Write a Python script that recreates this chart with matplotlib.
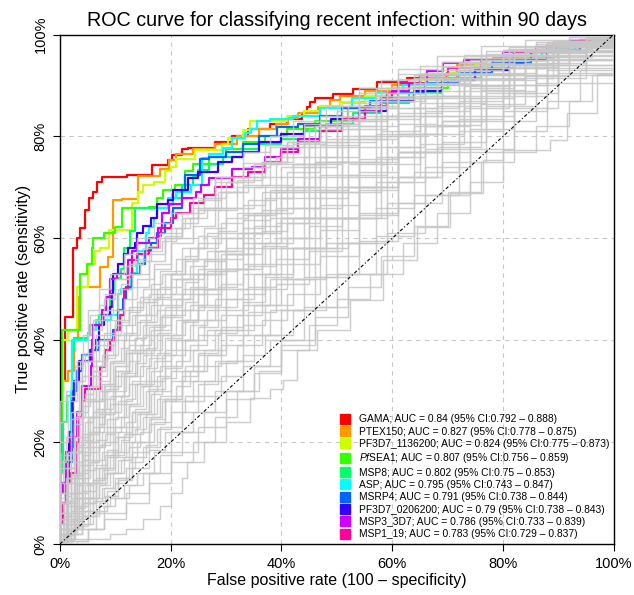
import matplotlib
matplotlib.use("Agg")
import matplotlib.pyplot as plt
from matplotlib.lines import Line2D

plt.rcParams['font.family'] = ['Liberation Sans', 'DejaVu Sans']
plt.rcParams['mathtext.fontset'] = 'custom'
plt.rcParams['mathtext.it'] = 'Liberation Sans:italic'
plt.rcParams['mathtext.rm'] = 'Liberation Sans'

# ROC points as (false positive %, true positive %).
# Each point: run flat up to fpr, then rise to tpr.
GAMA = [(0, 0), (0, 18), (0.3, 32), (0.9, 44.5), (2.3, 58), (3.0, 60), (3.6, 62), (4.5, 65.5), (5.2, 68),
        (6.0, 69), (6.7, 71), (7.6, 72), (12.1, 72.4), (16.6, 74.3), (19.5, 75.3), (20.2, 76.3), (22.0, 77.5),
        (23.1, 77.8), (28, 79), (31, 80), (34, 81.5), (38, 82.5), (41, 83.5), (43.7, 84.5), (44.6, 85.7),
        (45.2, 86.7), (46, 87.5), (49.3, 88.4), (52.9, 89.4), (57.2, 90.6), (62.7, 91.4), (69.9, 92.4),
        (75, 93.5), (80, 95), (85, 96.5), (90, 97.8), (95, 99), (100, 100)]
PTEX150 = [(0, 0), (0, 30), (0.5, 32), (1.5, 34), (2.5, 40), (3.3, 48.4), (3.6, 50.4), (7.2, 54.3), (8.7, 56.3),
           (9.6, 67.5), (11.2, 67.8), (14.1, 72.3), (18, 73.7), (19.6, 75.3), (21, 76.5), (24, 77.5), (28, 78.5),
           (32, 80), (36, 81.5), (39, 82.5), (41.2, 83.7), (43, 84.5), (46.6, 85.7), (48.8, 87.1), (50.6, 88),
           (55, 89), (60, 90), (65, 91.5), (71.7, 94), (78.2, 95.3), (85, 97), (92, 98.5), (100, 100)]
PF3D7_1136200 = [(0, 0), (0, 25), (0.3, 30), (0.5, 40), (1.4, 42), (3.0, 50.4), (5, 55), (6.3, 57.6), (7.2, 58),
                 (8.8, 61.6), (13, 67), (14.1, 69), (15, 70.4), (17, 71), (18.9, 73.3), (20, 74), (21, 75.5),
                 (24.4, 77.3), (29.3, 78.6), (30.3, 79.6), (33, 81.2), (34.3, 83.1), (41, 84), (44, 85), (47, 86),
                 (50.6, 86.7), (55, 88), (60, 89.5), (65, 91), (70, 92.5), (75, 94), (80, 95.5), (88, 97.5),
                 (100, 100)]
PFSEA1 = [(0, 0), (0, 20), (0.3, 42), (3.6, 53), (4.8, 55), (5.7, 58), (6.0, 60), (8, 61), (9.9, 62.2),
          (11.2, 65.9), (16, 66.2), (17.6, 68), (18.6, 69.4), (20.8, 70.4), (22.6, 73.3), (24, 74.5), (27, 76),
          (30, 77.5), (33, 79), (37, 80), (41, 81.5), (46, 83), (52, 85.5), (58, 87.5), (64, 89.5), (70, 91.5),
          (76, 93.5), (82, 95.5), (90, 97.5), (100, 100)]
MSP8 = [(0, 0), (0, 14), (0.6, 24), (1.2, 29), (2.2, 38), (2.6, 40.5), (5, 41.5), (5.4, 43), (7, 45), (9, 49.8),
        (10, 52.2), (11, 54), (11.5, 58), (12.7, 61.5), (13.5, 65.9), (19.5, 66.5), (20.5, 68), (22, 70.5),
        (24, 72), (25, 73.5), (27, 74.5), (29.5, 76), (33, 77.5), (36, 78.5), (40, 79.5), (44, 81), (48, 82.5),
        (53, 84.5), (58, 86.5), (63, 88.5), (69, 91), (75, 93), (81, 95), (88, 97), (94, 98.5), (100, 100)]
ASP = [(0, 0), (0, 16), (1, 18), (2, 30), (2.2, 40), (5, 41), (6, 42), (6.5, 44), (9.3, 45), (10.5, 49), (11, 50),
       (12.8, 53.1), (14, 55), (14.1, 57.6), (15.5, 61), (16, 62.2), (17, 64), (17.5, 65.9), (19.5, 68), (21, 69),
       (23.6, 70.5), (25.6, 75.7), (27, 76.5), (29.4, 77.8), (31, 79.6), (33.4, 80.6), (34.5, 81.5), (35.6, 83.1),
       (38, 83.5), (42, 84), (47, 85.5), (52.7, 87.6), (57, 88.5), (62, 90), (68, 92), (74, 93.5), (80, 95.5),
       (87, 97), (93, 98.5), (100, 100)]
MSRP4 = [(0, 0), (0, 6), (0.5, 8), (1, 16), (2.2, 19), (2.3, 30), (3, 34), (4, 37), (5.5, 38), (7, 40), (9.5, 42),
         (10.5, 46), (11.3, 48), (12, 50.5), (13, 53), (14.5, 55), (15.3, 57.5), (16.5, 59), (17.5, 61), (19, 63),
         (20.5, 66), (22, 69.4), (22.5, 72.5), (25.3, 75.5), (27, 76), (30, 77), (33, 78.5), (36, 80), (39.2, 81.8),
         (43, 82.5), (47, 84), (51, 85.5), (56, 87), (61, 88.5), (66, 90.5), (72, 92.5), (78, 94.5), (85, 96.5),
         (92, 98.5), (100, 100)]
PF3D7_0206200 = [(0, 0), (0, 12), (1.6, 22), (2.2, 28), (2.5, 32), (3.5, 36), (5.5, 38), (6.5, 40), (7, 43),
                 (8, 45), (9, 46.5), (9.4, 49), (9.6, 53), (10.4, 55), (11.5, 57), (12.2, 58), (13.5, 59), (14, 61),
                 (15, 62.5), (16.5, 64), (17.5, 66.8), (19.5, 67.5), (20.5, 69.4), (23.1, 71.8), (25, 73),
                 (28.5, 74.9), (31, 76), (33, 77), (36, 79), (40, 80.5), (44, 82), (49, 83.5), (54, 85), (59, 87),
                 (64, 89), (69, 91), (75, 93), (81, 95), (88, 97), (94, 98.5), (100, 100)]
MSP3_3D7 = [(0, 0), (0, 10), (0.5, 12), (1, 18), (2, 21), (3, 26), (4, 31), (5.6, 35), (5.8, 40), (6, 43),
            (7.5, 45), (7.6, 46), (8.3, 48.5), (9, 52), (10.3, 53), (12.3, 55.7), (13, 57.6), (14, 59), (16, 60),
            (17.7, 62), (18.5, 65), (19.6, 66.8), (22, 68), (24.5, 69), (25.5, 70.5), (27, 71.8), (31, 73.7),
            (34.7, 74), (37, 76), (40, 77.5), (43, 79.5), (47, 82), (51, 83.5), (55, 85), (58, 87.5), (60, 89),
            (63, 90.5), (66.3, 92.9), (69.2, 94.5), (73, 95), (80, 96.5), (86, 97.5), (92, 98.7), (100, 100)]
MSP1_19 = [(0, 0), (0, 4), (0.5, 8), (1, 12), (2, 14), (3, 20), (3.5, 25), (4, 28), (4.5, 30.5), (7.2, 31),
           (7.2, 34.7), (8.1, 38), (9, 40), (10, 42), (10.8, 45), (11.5, 50), (12.2, 52.4), (13, 55.7), (14, 57),
           (16, 58), (17.7, 60.5), (18.3, 62), (20, 64), (21, 65), (23.5, 67), (26, 68.5), (28, 70), (31, 72),
           (34, 73), (37, 75), (40, 77), (43, 79), (47, 81), (51, 83.5), (55, 86), (59, 88.5), (61, 90.5),
           (65, 92), (70, 93.5), (76, 95), (82, 96.5), (88, 97.8), (94, 99), (100, 100)]

antigens = ["GAMA", "PTEX150", "PF3D7_1136200", r"$\it{Pf}$SEA1", "MSP8", "ASP", "MSRP4",
            "PF3D7_0206200", "MSP3_3D7", "MSP1_19"]
auc = ["0.84", "0.827", "0.824", "0.807", "0.802", "0.795", "0.791", "0.79", "0.786", "0.783"]
ci_low = ["0.792", "0.778", "0.775", "0.756", "0.75", "0.743", "0.738", "0.738", "0.733", "0.729"]
ci_high = ["0.888", "0.875", "0.873", "0.859", "0.853", "0.847", "0.844", "0.843", "0.839", "0.837"]
colours = ["#FF0000", "#FF9900", "#CCFF00", "#33FF00", "#00FF66", "#00FFFF", "#0066FF", "#3300FF",
           "#CC00FF", "#FF0099"]
top_curves = [GAMA, PTEX150, PF3D7_1136200, PFSEA1, MSP8, ASP, MSRP4, PF3D7_0206200, MSP3_3D7, MSP1_19]

# the other antigens (grey). fpr positions shared by a few curves each, tpr per curve
fpr_a = [0, 1.5, 3, 5, 7, 9, 11.5, 14, 17, 20, 24, 28, 33, 38, 44, 50, 57, 64, 72, 80, 88, 95, 100]
fpr_b = [0, 1, 2, 4, 6, 8, 10, 12.5, 15, 18, 22, 26, 30, 35, 40, 46, 52, 59, 66, 74, 82, 90, 100]
fpr_c = [0, 0.5, 2.5, 4, 6.5, 8.5, 10.5, 13, 16, 19, 22, 25, 29, 33, 37, 42, 48, 54, 61, 69, 77, 86, 100]
fpr_d = [0, 0.7, 2, 3.5, 4.5, 6, 7.5, 9.5, 11, 12.5, 14.5, 16.5, 18.5, 21, 23.5, 26.5, 30, 34, 39, 45, 51,
         58, 65, 73, 81, 89, 96, 100]
fpr_e = [0, 1.2, 2.8, 4.2, 5.5, 7, 8.2, 10, 12, 13.5, 15.5, 17.5, 20, 22.5, 25, 28.5, 32, 36.5, 41, 47, 54,
         61, 68, 76, 84, 92, 100]

grey_a = [
    [20, 28, 36, 46, 50, 53, 57, 60, 63, 65, 68, 71, 74, 78, 82, 86, 89.5, 92, 94.5, 97, 98.5, 99.5, 100],
    [10, 18, 26, 36, 40, 44, 48, 52, 55, 59, 62.5, 66, 70.5, 74.5, 79, 83, 87, 90, 93, 96, 98, 99.2, 100],
    [5, 12, 19, 28, 32, 36, 40, 43.5, 48, 52, 56, 60, 64.5, 69, 74, 79, 84, 88, 92, 95, 97, 98.8, 100],
    [2, 8, 14, 22, 25.5, 29, 33.5, 37.5, 42, 46, 50, 54, 59, 64, 69.5, 75, 80.5, 85.5, 90, 93.5, 96.3, 98.5, 100],
    [1, 5.5, 10, 16, 19.5, 23, 27.5, 31.5, 36, 40, 44, 48, 53, 58, 64, 70, 76, 82, 87, 92, 95.2, 98, 100],
    [0.5, 4, 7.5, 12, 15, 17.5, 21.5, 25.5, 30, 34, 38, 42, 47, 52, 58, 64, 71, 77, 83.5, 90, 94.5, 97.8, 100],
    [0, 2.5, 5.5, 9, 11.5, 14, 17, 20, 24, 28, 32, 36, 41, 46, 52.5, 59, 66, 73, 81, 88, 93, 97.3, 100],
    [0, 2, 3.5, 6, 7.5, 9, 11.5, 14, 18, 22, 26, 30, 35, 40, 46.5, 53, 60.5, 68.5, 77, 85, 91.5, 96.5, 100],
    [3, 7.5, 12, 18, 23, 27.5, 33, 38, 43, 48, 53, 57.5, 63.5, 69.5, 76, 82, 87.5, 91.5, 94.5, 97, 98.4, 99.4, 100],
    [8, 13, 18, 25, 30, 35.5, 41.5, 47.5, 54, 60, 66, 72, 77, 80, 82.5, 85, 88, 90.5, 93.5, 96, 98, 99.2, 100],
]
grey_b = [
    [16, 21, 26, 37, 44, 48, 52, 55, 58, 61, 65, 68, 71, 74.5, 78, 82, 86, 89.5, 92.5, 95, 97, 98.8, 100],
    [8, 13, 18, 28, 35, 39, 43, 46.5, 50, 53.5, 58, 62, 66, 70, 74, 79, 83, 87.5, 90.5, 93.5, 96, 98, 100],
    [4, 8.5, 13, 21.5, 28, 31.5, 35, 39, 43, 47, 52, 56, 60, 65, 70, 75, 79.5, 84, 88, 92, 95, 97.5, 100],
    [2, 5.5, 9, 16.5, 22, 25.5, 29, 33, 37, 41, 46, 50, 54, 59, 64, 69.5, 74.5, 80, 85, 90, 93.7, 96.5, 100],
    [1, 4, 6.5, 12, 16.5, 20, 23, 27, 31, 35, 40, 44, 48, 53, 58, 64, 70, 76, 82, 87.5, 92, 96, 100],
    [0, 2, 4.5, 9, 12.5, 15, 18, 21.5, 25, 29, 34, 38, 42, 47, 52, 58, 64, 71, 77.5, 84, 90, 95, 100],
    [0, 1.5, 3, 6.5, 9, 11, 13, 16, 19, 23, 28, 32, 36, 41, 46, 52.5, 59, 67, 74, 81.5, 88.5, 94, 100],
    [0, 1, 2, 4, 6, 7.5, 9, 11.5, 14, 17.5, 22, 26, 30, 35, 40, 46.5, 53, 61, 68.5, 77.5, 85.5, 92.5, 100],
    [28, 30, 32, 36, 39, 41.5, 44, 46, 48, 50.5, 53, 55.5, 58, 61, 64, 68, 72.5, 78, 84, 89.5, 94, 97, 100],
    [6, 9.5, 13, 20.5, 26, 30, 34, 37.5, 41, 44.5, 49, 53, 57, 62.5, 68, 75, 81.5, 87, 91, 94.5, 97, 98.5, 100],
]
grey_c = [
    [12, 15, 25, 33, 41, 46, 50, 53, 57, 60, 63, 65.5, 69, 72, 75, 78.5, 82.5, 86, 89.5, 92.5, 95, 97.5, 100],
    [6, 8.5, 18, 25, 33, 37, 41, 45, 49, 53, 56, 59, 63, 66.5, 70.5, 74.5, 79.5, 83.5, 87.5, 91, 94, 96.8, 100],
    [3, 5, 13.5, 20, 26.5, 30.5, 34, 38, 42.5, 46.5, 50, 53, 57, 61, 65, 70, 75, 80, 84.5, 89, 92.5, 95.8, 100],
    [1.5, 3, 10, 14.5, 20.5, 24.5, 28, 32, 36.5, 40.5, 44, 47, 51, 55, 59, 64, 70, 75, 80.5, 86.5, 91, 95, 100],
    [0.5, 2, 7, 10.5, 15.5, 18.5, 22, 26, 30.5, 34.5, 38, 41, 45, 49, 53, 58, 64, 70, 77, 83, 88.5, 93.5, 100],
    [0, 1, 5, 8, 12, 14, 16.5, 20, 24.5, 28.5, 32, 35, 39, 43, 47, 52, 59, 65, 72, 79, 86, 92, 100],
    [0, 0.5, 3.5, 5.5, 8.5, 10.5, 12.5, 15, 18.5, 22, 26, 29, 33, 37, 41, 46, 53, 59.5, 67, 75, 83, 90.5, 100],
    [0, 1, 5, 8, 13, 17, 21, 26, 32, 38, 43.5, 49, 56, 62, 68, 74.5, 81.5, 87, 92.3, 94.7, 96.8, 98.6, 100],
    [0, 0.5, 2, 3, 6.5, 9.5, 13, 18, 23.5, 28.5, 33, 37, 42.5, 47.5, 52.5, 58, 64, 70, 77, 83, 89, 94, 100],
    [15, 16.5, 23.5, 28.5, 36, 41, 46, 50.5, 55.5, 60.5, 64, 67.5, 72, 74.7, 78.3, 83, 86, 88.6, 91.3, 93.7,
     96.1, 98.2, 100],
]
grey_d = [
    [14, 17.5, 24.5, 32, 37.5, 42, 45, 49, 51, 53, 55.5, 57.5, 59.5, 62, 64, 66, 69, 72, 76, 81.5, 86.5, 91,
     93.8, 96, 97.6, 98.8, 99.6, 100],
    [9, 12, 18, 25, 29.5, 34, 37, 41, 43.5, 45.5, 48.5, 51, 53, 56, 58, 61, 64, 67.5, 72, 78, 83.5, 88.5,
     92.3, 95.3, 97.2, 98.6, 99.5, 100],
    [5, 8, 13.5, 19.5, 24, 28, 31.5, 36, 38.5, 41, 44, 47, 49, 52, 54.5, 57.5, 61, 64.5, 69, 74.5, 80, 85.5,
     90, 94, 96.7, 98.3, 99.4, 100],
    [3, 5.5, 10, 15.5, 19, 23, 26.5, 31, 33.5, 36, 39, 42, 45, 48, 50.5, 53.5, 57, 61, 66, 72, 78, 83.5, 88,
     92.3, 95.7, 97.7, 99.2, 100],
    [1, 3, 7.5, 12, 15.5, 19, 22, 26, 29, 31.5, 35, 38, 41, 44, 47, 50, 54, 58, 63, 69, 75, 81, 86.5, 91.5,
     95.3, 97.7, 99.2, 100],
    [0, 2, 5, 9, 11.5, 15, 18, 22, 25, 27.5, 31, 34, 37, 40, 43, 46, 50, 54.5, 60, 66, 72, 78, 84, 89.8, 94.3,
     97.1, 99, 100],
    [0, 1.5, 4, 7, 9, 12, 14.5, 18, 20.5, 23, 26, 29.5, 32.5, 36, 39, 42, 46, 50.5, 56, 62.5, 69, 74.5, 80.5,
     88, 93.4, 96.6, 98.8, 100],
    [0, 1, 3, 5, 6.5, 8.5, 11, 14, 16.5, 19, 22, 25, 28, 31, 34, 37, 41, 45.5, 51, 57.5, 64, 72, 78.5, 85.5,
     91.5, 95.5, 98.4, 100],
]
grey_e = [
    [24, 29, 35, 41, 45, 47, 49, 52, 54.5, 56, 58.5, 60, 62, 64, 66, 69, 71.5, 75, 79, 84, 89.5, 93.3, 95.8,
     97.7, 98.9, 99.6, 100],
    [10, 15, 21, 27, 31, 34, 36.5, 40, 43, 45, 47.5, 50, 53, 55.5, 58, 61.5, 65, 69, 73, 78.3, 84, 89.5, 93,
     95.8, 97.8, 99.2, 100],
    [6, 10, 16, 21, 25, 28.5, 31, 35, 38, 40.5, 43.5, 46, 49, 51.5, 54, 57.5, 61, 65.5, 70, 76, 82, 87.5,
     91.4, 94.9, 97.1, 98.8, 100],
    [2, 6, 11.5, 16.5, 20, 23.5, 26, 30, 33, 35.5, 38.5, 41.5, 45, 47.5, 50, 53.5, 57, 61.5, 66, 72.5, 79.5,
     85.5, 90.2, 94.2, 96.7, 98.7, 100],
    [1, 4.5, 9, 13, 16, 19, 21.5, 25, 28.5, 31.5, 34.5, 37.5, 41, 44, 46.5, 50.5, 54, 58.5, 63, 69, 75.5,
     82.5, 87.6, 92.3, 95.7, 97.8, 100],
    [0, 2.5, 6, 9, 12, 15, 17.5, 21, 24, 26.5, 30, 33, 37, 40, 42.5, 46.5, 50, 55, 60, 66.5, 73, 80.5, 86,
     91.3, 94.5, 97.5, 100],
    [0, 2, 4.5, 6.5, 9, 11.5, 14, 17, 20, 22.5, 25.5, 28.5, 32, 35, 37.5, 41.5, 45, 50, 55, 61.7, 69.5, 77,
     82.3, 89.2, 94, 96.7, 100],
    [0, 1, 3, 4, 5.5, 8, 9.5, 12, 15, 17, 19.5, 22.5, 26, 29, 31.5, 35.5, 39, 44, 49, 56.5, 64.5, 72, 78,
     86.4, 91.8, 95.1, 100],
    [4, 8, 13, 17.5, 21.5, 25, 28.5, 33, 37.5, 40.5, 45, 48.5, 53, 56.5, 60.5, 65.5, 70, 75, 79, 82.5, 85.5,
     88.5, 91.2, 94.1, 96.5, 98.4, 100],
]
# the few curves near / under the diagonal
grey_low = [
    [(0, 0.5), (5, 3), (8, 6), (12, 10), (16, 14), (20, 18), (25, 23), (30, 28.5), (35, 33.5), (40, 39),
     (46, 44.5), (52, 50.5), (58, 56.5), (64, 62.5), (70, 69), (76, 75), (82, 81), (88, 87), (94, 93), (100, 100)],
    [(0, 0), (2, 1), (5, 3), (8, 5), (12, 8), (16, 12), (20, 16), (24, 20), (28, 25), (32, 30), (36, 34),
     (40, 38), (45, 43), (50, 48), (56, 53), (62, 59), (68, 65), (74, 71), (80, 77), (86, 82), (92, 87),
     (96, 92), (100, 100)],
    [(0, 0), (3, 0.5), (5, 1), (9, 2), (12, 3), (15, 5), (18, 7.5), (20, 10), (22, 13), (23, 16), (26, 20),
     (30, 24), (34.3, 28.6), (38, 30.5), (40.3, 32.2), (42.8, 38), (46.4, 42), (52.4, 47.8), (58.4, 55.7),
     (64.5, 62.2), (70.5, 68.8), (76.4, 75.3), (80, 77.3), (88.5, 79.2), (91.6, 84.5), (97, 92.3), (100, 100)],
]

fig, ax = plt.subplots(figsize=(6.34, 5.95), dpi=100)
fig.subplots_adjust(left=0.0946, right=0.968, bottom=0.0857, top=0.942)

for v in [20, 40, 60, 80]:
    ax.axvline(v, color="#c8c8c8", lw=0.8, ls=(0, (4, 4)), zorder=1)
    ax.axhline(v, color="#c8c8c8", lw=0.8, ls=(0, (4, 4)), zorder=1)

for pts, col in zip(top_curves, colours):
    x = [p[0] for p in pts]
    y = [p[1] for p in pts]
    ax.plot(x, y, drawstyle="steps-post", color=col, lw=1.6, zorder=2)

grey_kw = dict(drawstyle="steps-post", color="#c6c6c6", lw=1.05, alpha=0.85, zorder=3)
for fpr, group in [(fpr_a, grey_a), (fpr_b, grey_b), (fpr_c, grey_c), (fpr_d, grey_d), (fpr_e, grey_e)]:
    for tpr in group:
        ax.plot([0] + fpr, [0] + tpr, **grey_kw)
for pts in grey_low:
    ax.plot([0] + [p[0] for p in pts], [0] + [p[1] for p in pts], **grey_kw)

ax.plot([0, 100], [0, 100], color="black", lw=0.8, ls=(0, (3, 2, 1, 2)), zorder=4)

ax.set_xlim(0, 100)
ax.set_ylim(0, 100)
ticks = [0, 20, 40, 60, 80, 100]
ax.set_xticks(ticks)
ax.set_yticks(ticks)
ax.set_xticklabels([f"{t}%" for t in ticks], fontsize=10.5)
ax.set_yticklabels([f"{t}%" for t in ticks], fontsize=10.5, rotation=90, va="center")
ax.tick_params(direction="out", length=5, width=0.8, pad=4)
for s in ax.spines.values():
    s.set_linewidth(1.0)

ax.set_title("ROC curve for classifying recent infection: within 90 days", fontsize=14.2, pad=6)
ax.set_xlabel("False positive rate (100 \u2013 specificity)", fontsize=11.5, labelpad=2)
ax.set_ylabel("True positive rate (sensitivity)", fontsize=11.5, labelpad=2)

handles = [Line2D([], [], ls="none", marker="s", markersize=6.5, color=c) for c in colours]
labels = [f"{a}; AUC = {u} (95% CI:{lo} \u2013 {hi})" for a, u, lo, hi in zip(antigens, auc, ci_low, ci_high)]
ax.legend(handles, labels, loc="lower right", bbox_to_anchor=(1.0, 0.0), frameon=False, fontsize=7.35,
          labelspacing=0.23, handletextpad=0.8, handlelength=1.0, borderaxespad=0.25, borderpad=0.2)

fig.savefig("out.png", dpi=100)
